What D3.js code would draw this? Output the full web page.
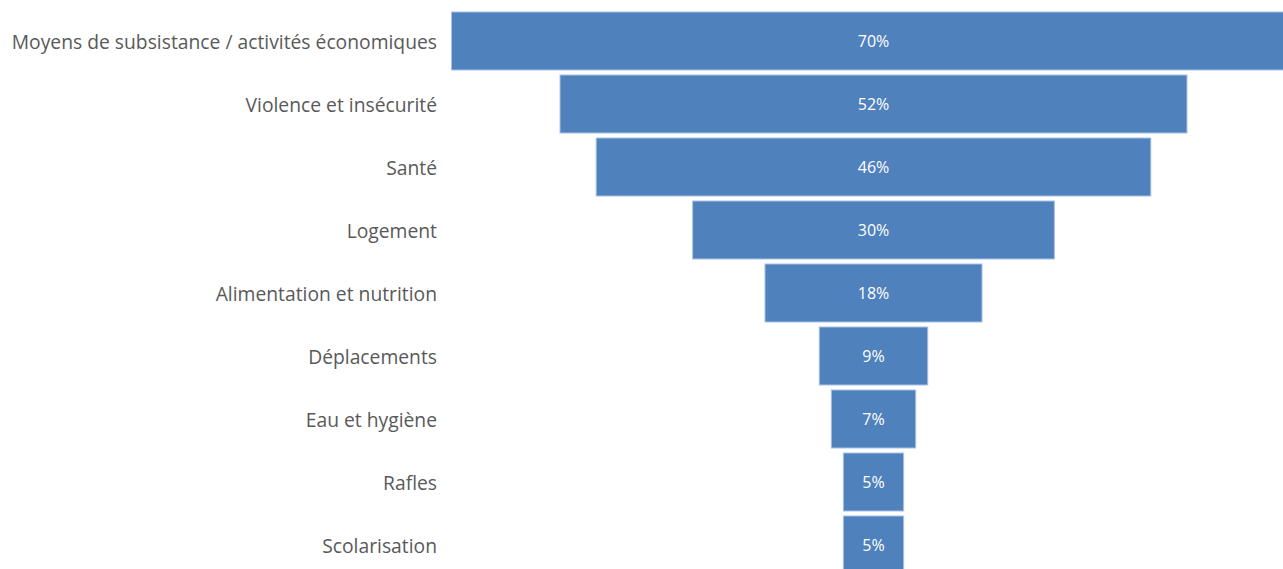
<!DOCTYPE html>
<html>
<head>
<meta charset="utf-8">
<script src="https://cdn.jsdelivr.net/npm/d3@7"></script>
<style>
  html, body { margin: 0; padding: 0; background: #ffffff; overflow: hidden; }
  svg { display: block; }
</style>
</head>
<body>
<svg id="chart" width="1283" height="569"></svg>
<script>
// Funnel categories, top to bottom
const categories = [
  "Moyens de subsistance / activités économiques",
  "Violence et insécurité",
  "Santé",
  "Logement",
  "Alimentation et nutrition",
  "Déplacements",
  "Eau et hygiène",
  "Rafles",
  "Scolarisation"
];
// Share of respondents (%)
const values = [70, 52, 46, 30, 18, 9, 7, 5, 5];

const svg = d3.select("#chart");
const centerX = 873.5;

// Bar width is proportional to the value; bars are centred on a common axis
const w = d3.scaleLinear().domain([0, 70]).range([0, 844]);
const y = d3.scaleBand()
  .domain(categories)
  .range([9.5, 576.5])
  .paddingInner(5 / 63)
  .paddingOuter(5 / 126);

const data = categories.map((c, i) => ({ cat: c, val: values[i] }));

svg.selectAll("rect.bar")
  .data(data)
  .join("rect")
  .attr("class", "bar")
  .attr("x", d => centerX - w(d.val) / 2)
  .attr("y", d => y(d.cat))
  .attr("width", d => w(d.val))
  .attr("height", y.bandwidth())
  .attr("fill", "#4f81bd")
  .attr("stroke", "#a9c2e3")
  .attr("stroke-width", 1);

svg.selectAll("text.val")
  .data(data)
  .join("text")
  .attr("class", "val")
  .attr("x", centerX)
  .attr("y", d => y(d.cat) + y.bandwidth() / 2)
  .attr("text-anchor", "middle")
  .attr("dominant-baseline", "central")
  .attr("fill", "#ffffff")
  .attr("font-family", "'Open Sans', sans-serif")
  .attr("font-size", 16)
  .text(d => d.val + "%");

svg.selectAll("text.cat")
  .data(data)
  .join("text")
  .attr("class", "cat")
  .attr("x", 437)
  .attr("y", d => y(d.cat) + y.bandwidth() / 2)
  .attr("text-anchor", "end")
  .attr("dominant-baseline", "central")
  .attr("fill", "#595959")
  .attr("font-family", "'Open Sans', sans-serif")
  .attr("font-size", 19.3)
  .text(d => d.cat);
</script>
</body>
</html>
